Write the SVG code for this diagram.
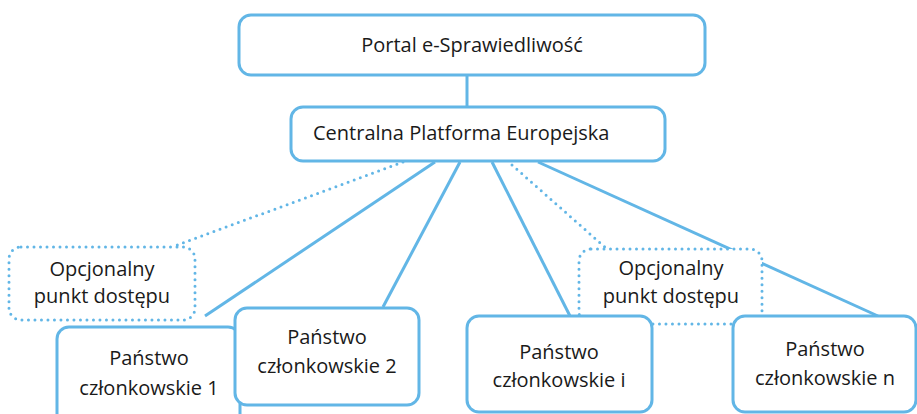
<svg xmlns="http://www.w3.org/2000/svg" width="917" height="414" viewBox="0 0 917 414">
<style>
.box{fill:#fff;stroke:#62b6e6;stroke-width:3}
.opt{fill:#fff;stroke:#62b6e6;stroke-width:3;stroke-dasharray:0 6.5;stroke-linecap:round}
.ln{stroke:#62b6e6;stroke-width:3;fill:none}
.dl{stroke:#62b6e6;stroke-width:3;fill:none;stroke-dasharray:0 6.5;stroke-linecap:round}
text{font-family:"Open Sans","Liberation Sans",sans-serif;font-size:20px;fill:#1a1a1a}
.c{text-anchor:middle}
</style>
<rect width="917" height="414" fill="#fff"/>
<g id="connectors">
<line class="ln" x1="467" y1="75" x2="467" y2="107"/>
<line class="dl" x1="403" y1="162" x2="172" y2="247"/>
<line class="ln" x1="435" y1="162" x2="205" y2="316"/>
<line class="ln" x1="460" y1="162" x2="383" y2="307"/>
<line class="ln" x1="492" y1="162" x2="570" y2="316"/>
<line class="dl" x1="512" y1="165" x2="607" y2="249"/>
<line class="ln" x1="538" y1="162" x2="878" y2="316"/>
</g>
<g id="portal">
<rect class="box" x="239" y="15" width="466" height="60" rx="12"/>
<text class="c" x="472" y="52">Portal e-Sprawiedliwość</text>
</g>
<g id="cpe">
<rect class="box" x="291" y="107" width="374" height="54" rx="12"/>
<text x="313" y="140">Centralna Platforma Europejska</text>
</g>
<g id="opt1">
<rect class="opt" x="9" y="247" width="186" height="73" rx="12"/>
<text class="c" x="102" y="276">Opcjonalny</text>
<text class="c" x="102" y="303">punkt dostępu</text>
</g>
<g id="opt2">
<rect class="opt" x="579" y="249" width="183" height="75" rx="12"/>
<text class="c" x="671" y="275">Opcjonalny</text>
<text class="c" x="671" y="303">punkt dostępu</text>
</g>
<g id="ms1">
<rect class="box" x="57" y="327" width="183" height="100" rx="12"/>
<text class="c" x="149" y="365">Państwo</text>
<text class="c" x="149" y="395">członkowskie 1</text>
</g>
<g id="ms2">
<rect class="box" x="235" y="308" width="184" height="97" rx="12"/>
<text class="c" x="327" y="344">Państwo</text>
<text class="c" x="327" y="373">członkowskie 2</text>
</g>
<g id="msi">
<rect class="box" x="467" y="316" width="185" height="96" rx="12"/>
<text class="c" x="559" y="359">Państwo</text>
<text class="c" x="559" y="387">członkowskie i</text>
</g>
<g id="msn">
<rect class="box" x="733" y="316" width="183" height="96" rx="12"/>
<text class="c" x="825" y="356">Państwo</text>
<text class="c" x="825" y="385">członkowskie n</text>
</g>
</svg>
